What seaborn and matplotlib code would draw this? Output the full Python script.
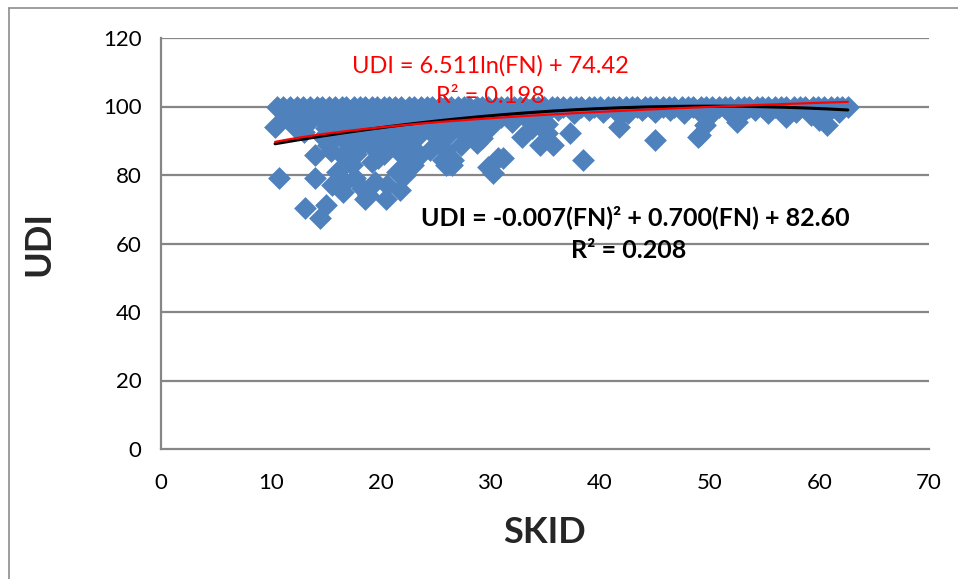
import numpy as np
import pandas as pd
import matplotlib
matplotlib.use("Agg")
import matplotlib.pyplot as plt
import seaborn as sns
from matplotlib.lines import Line2D

# ---------------- data ----------------
top_x = [10.6, 11.1, 11.8, 12.4, 12.9, 13.6, 14.2, 14.7, 15.3, 15.9, 16.5, 16.9, 17.6, 18.1,
         18.6, 19.2, 19.7, 20.3, 20.8, 21.3, 21.9, 22.6, 23.1, 23.7, 24.2, 24.7, 25.4, 25.9,
         26.4, 27.1, 27.6, 28.1, 28.8, 29.3, 29.8, 30.5, 31.0, 31.5, 32.2, 32.7, 33.2, 33.9,
         34.4, 34.9, 35.6, 36.1, 36.6, 37.3, 37.8, 38.3, 39.0, 39.5, 40.0, 40.7, 41.2, 41.7,
         42.4, 42.9, 43.4, 44.1, 44.6, 45.1, 45.8, 46.3, 46.8, 47.5, 48.0, 48.5, 49.2, 49.7,
         50.2, 50.9, 51.4, 51.9, 52.6, 53.1, 53.6, 54.3, 54.8, 55.3, 56.0, 56.5, 57.0, 57.7,
         58.2, 58.7, 59.4, 59.9, 60.4, 61.1, 61.6, 62.1, 62.6]
top_y = [100] * len(top_x)

band_x = [13.0, 14.6, 16.2, 17.4, 18.8, 20.5, 21.7, 23.0, 24.4, 25.6, 26.8, 28.0, 29.5, 30.8,
          32.0, 33.5, 34.8, 36.2, 37.6, 39.0, 40.3, 41.5, 42.6, 43.8, 45.0, 46.4, 47.7, 48.9,
          50.2, 51.6, 52.8, 54.1, 55.3, 56.7, 57.9, 59.2, 60.4, 61.8, 52.5, 57.0, 60.7, 60.0,
          60.5, 49.6, 50.0, 41.8, 34.1, 35.2]
band_y = [98.5, 99, 98, 99, 98.5, 99, 98, 99, 98.5, 99, 98, 99, 98.5, 99,
          98, 99, 98.5, 99, 98, 99, 98.5, 99, 98, 99, 98.5, 99, 98, 99,
          98.5, 99, 97.5, 99, 98, 99, 98.5, 97.5, 99, 98.5, 95.5, 96.8, 94.5, 96.0,
          97.5, 94.6, 97.5, 97.5, 97.5, 95.0]

low_x = [10.4, 10.8, 13.1, 14.5, 15.0, 14.0, 14.0, 15.6, 16.6, 16.0, 17.4, 15.2, 16.5, 18.0,
         18.6, 19.2, 19.5, 18.9, 18.6, 20.5, 21.8, 12.0, 12.9, 13.8, 11.3, 17.0, 15.0, 18.3,
         19.5, 20.1, 17.7, 18.3, 16.8, 20.9, 21.8, 22.7, 23.6, 23.0, 26.0, 26.3, 27.3, 28.3,
         30.0, 29.3, 31.2, 20.6, 21.5, 22.2, 22.5, 24.5, 25.7, 28.8, 29.8, 30.3, 30.7, 32.9,
         33.8, 34.5, 35.2, 37.3, 38.5, 41.7, 45.0, 48.9, 49.1, 35.7, 23.6, 24.7, 25.4, 25.9,
         26.6, 26.5,
         11.5, 12.5, 13.5, 14.5, 15.5, 16.0, 16.8, 17.5, 18.0, 19.0, 19.8, 20.5, 21.0, 21.5,
         22.0, 22.8, 23.3, 24.0, 24.8, 25.5, 26.0, 27.0, 27.5, 28.5, 29.0, 30.0, 31.0, 32.0,
         33.0, 16.3, 17.2, 18.5, 19.3, 20.3, 21.2, 22.2, 23.0, 19.8, 17.8, 15.5, 14.8, 13.0,
         12.2]
low_y = [94.0, 79.1, 70.4, 67.4, 71.2, 85.8, 79.1, 77.0, 75.0, 80.9, 82.9, 88.8, 85.8, 87.9,
         90.8, 83.8, 78.0, 74.2, 73.0, 73.0, 75.6, 95.5, 94.6, 96.6, 97.5, 95.5, 93.7, 92.5,
         93.7, 89.6, 79.1, 76.2, 78.0, 91.7, 86.4, 90.8, 85.8, 83.0, 83.0, 92.3, 88.8, 91.7,
         94.0, 90.8, 85.0, 77.0, 80.9, 80.0, 83.8, 87.3, 84.4, 89.3, 82.3, 80.6, 85.0, 91.1,
         93.7, 88.8, 92.3, 92.3, 84.4, 94.0, 90.2, 91.0, 91.7, 88.8, 93.0, 94.6, 90.2, 87.3,
         84.4, 83.0,
         98.0, 97.0, 95.5, 97.0, 96.0, 94.0, 97.0, 93.0, 96.0, 95.0, 97.0, 94.0, 96.5, 92.5,
         95.0, 97.0, 91.0, 96.0, 92.0, 95.5, 97.0, 94.0, 96.5, 95.0, 97.5, 96.0, 97.0, 95.5,
         97.5, 91.5, 89.5, 91.0, 88.0, 86.0, 89.0, 87.5, 86.0, 85.0, 86.0, 87.0, 91.0, 92.5,
         94.0]

log_coef = [6.511, 74.42]          # UDI = a ln(FN) + b
poly_coef = [-0.007, 0.700, 82.60]  # UDI = a FN^2 + b FN + c

x_ticks = [0, 10, 20, 30, 40, 50, 60, 70]
y_ticks = [0, 20, 40, 60, 80, 100, 120]

df = pd.DataFrame({"SKID": top_x + band_x + low_x,
                   "UDI": top_y + band_y + low_y})

# ---------------- style ----------------
sns.set_style("white")
plt.rcParams['font.family'] = ['Lato', 'DejaVu Sans']

fig = plt.figure(figsize=(9.58, 5.79), dpi=100)
ax = fig.add_axes([161 / 958, 1 - 449 / 579, (929 - 161) / 958, (449 - 38) / 579])

grid_c = '#868686'
ax.set_axisbelow(True)
for yv in y_ticks[1:]:
    ax.axhline(yv, color=grid_c, lw=1.6, zorder=0)

sns.scatterplot(data=df, x="SKID", y="UDI", marker="D", s=135, color="#4F81BD",
                linewidth=0, alpha=1, ax=ax, zorder=3)

xs = np.linspace(df["SKID"].min(), df["SKID"].max(), 200)
poly_y = np.polyval(poly_coef, xs)
log_y = log_coef[0] * np.log(xs) + log_coef[1]
sns.lineplot(x=xs, y=poly_y, color="black", lw=2.2, ax=ax, zorder=4)
sns.lineplot(x=xs, y=log_y, color="#FF0000", lw=1.6, ax=ax, zorder=5)

ax.set_xlim(0, 70)
ax.set_ylim(0, 120)
ax.set_xticks(x_ticks)
ax.set_yticks(y_ticks)
ax.tick_params(axis='both', direction='out', length=8, width=1.3, color=grid_c,
               labelsize=16, labelcolor='black', pad=6)
ax.tick_params(axis='x', pad=9)
for s in ['top', 'right']:
    ax.spines[s].set_visible(False)
for s in ['left', 'bottom']:
    ax.spines[s].set_color(grid_c)
    ax.spines[s].set_linewidth(1.6)

ax.set_xlabel("SKID", fontsize=26, fontweight='bold', labelpad=17)
ax.set_ylabel("UDI", fontsize=26, fontweight='bold', labelpad=34)

ax.text(30.0, 111.8, "UDI = 6.511ln(FN) + 74.42", color="#FF0000", fontsize=17,
        ha='center', va='center', zorder=6)
ax.text(30.0, 102.8, "R² = 0.198", color="#FF0000", fontsize=17,
        ha='center', va='center', zorder=6)
ax.text(43.2, 67.7, "UDI = -0.007(FN)² + 0.700(FN) + 82.60", color="black", fontsize=18,
        fontweight='bold', ha='center', va='center', zorder=6)
ax.text(42.6, 58.1, "R² = 0.208", color="black", fontsize=18,
        fontweight='bold', ha='center', va='center', zorder=6)

# outer chart frame (left and top edges visible)
fx, fy = 9 / 958, 1 - 8 / 579
fig.add_artist(Line2D([fx, fx], [0, fy], transform=fig.transFigure, color='#8c8c8c', lw=1.2))
fig.add_artist(Line2D([fx, 1], [fy, fy], transform=fig.transFigure, color='#8c8c8c', lw=1.2))

fig.savefig("out.png", dpi=100)
